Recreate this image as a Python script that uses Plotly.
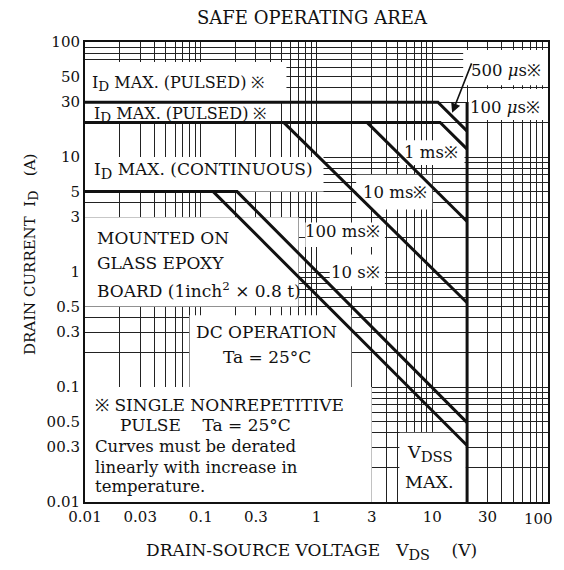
import math
import plotly.graph_objects as go

FONT = "DejaVu Serif"
INK = "#111111"
SP = "\u00a0"

# axis ticks (labels as printed on the sheet)
x_tickvals = [0.01, 0.03, 0.1, 0.3, 1, 3, 10, 30, 100]
x_ticktext = ["0.01", "0.03", "0.1", "0.3", "1", "3", "10", "30", "100"]
y_tickvals = [100, 50, 30, 10, 5, 3, 1, 0.5, 0.3, 0.1, 0.05, 0.03, 0.01]
y_ticktext = ["100", "50", "30", "10", "5", "3", "1", "0.5", "0.3", "0.1", "00.5", "00.3", "0.01"]

# SOA boundary corner points, V_DS (V) / I_D (A)
v_100us = [0.01, 11.2, 20]
i_100us = [30, 30, 16.8]
v_500us = [0.01, 11.7, 20]
i_500us = [20, 20, 11.7]
v_1ms = [2.73, 20]
i_1ms = [20, 2.75]
v_10ms = [0.52, 20]
i_10ms = [20, 0.54]
v_100ms = [0.01, 0.206, 20]
i_100ms = [5, 5, 0.049]
v_10s = [0.128, 20]
i_10s = [5, 0.031]
v_vdss = [20, 20]
i_vdss = [30, 0.01]

# white label panels knocked out of the grid: (V0, V1, I0, I1)
panels = [
    (0.01, 0.55, 30, 67),
    (0.01, 0.47, 20, 30),
    (0.01, 1.15, 5, 10),
    (0.01, 0.7, 0.5, 3),
    (0.08, 2, 0.1, 0.42),
    (0.01, 3, 0.01, 0.1),
    (5.2, 19.5, 0.01, 0.04),
    (5.2, 19, 8.5, 14),
    (2.2, 10, 3.5, 7),
    (0.8, 3.9, 1.65, 2.7),
    (1.3, 3.9, 0.75, 1.42),
    (18.5, 100, 42, 85),
    (20.5, 100, 21, 39),
]

grid = [round(m * 10 ** e, 6) for e in range(-2, 2) for m in range(1, 10)] + [100]

fig = go.Figure()

# panels first so they sit over the grid but under the curves
for v0, v1, a0, a1 in panels:
    fig.add_trace(go.Scatter(x=[v0, v1, v1, v0, v0], y=[a0, a0, a1, a1, a0],
                             mode="lines", fill="toself", fillcolor="white",
                             line=dict(width=0, color="white"), hoverinfo="skip"))

curves = [
    (v_100us, i_100us), (v_500us, i_500us), (v_1ms, i_1ms), (v_10ms, i_10ms),
    (v_100ms, i_100ms), (v_10s, i_10s), (v_vdss, i_vdss),
]
for vx, iy in curves:
    fig.add_trace(go.Scatter(x=vx, y=iy, mode="lines",
                             line=dict(color=INK, width=3), hoverinfo="skip"))


def sub(txt, size):
    # datasheet subscripts are almost full size
    return f"<sub><span style='font-size:{size * 0.85:.1f}px'>{txt}</span></sub>"


def label(text, x, y, size=16.5, anchor="left"):
    fig.add_annotation(text=text, x=x, y=y, xref="paper", yref="paper",
                       showarrow=False, xanchor=anchor, yanchor="middle",
                       font=dict(family=FONT, size=size, color=INK))


label("I" + sub("D", 16) + " MAX. (PULSED) ※", 0.011, 0.91, size=16)
label("I" + sub("D", 16) + " MAX. (PULSED) ※", 0.015, 0.843, size=16)
label("I" + sub("D", 17) + " MAX. (CONTINUOUS)", 0.015, 0.72, size=17)
label("MOUNTED ON", 0.022, 0.574, size=17)
label("GLASS EPOXY", 0.022, 0.520, size=17)
label("BOARD (1inch<sup>2</sup> × 0.8 t)", 0.022, 0.461, size=17)
label("DC OPERATION", 0.393, 0.370, size=17, anchor="center")
label("Ta = 25°C", 0.393, 0.315, size=17, anchor="center")
label("※ SINGLE NONREPETITIVE", 0.017, 0.211, size=17)
label("PULSE" + SP * 4 + "Ta = 25°C", 0.071, 0.167, size=17)
label("Curves must be derated", 0.017, 0.120)
label("linearly with increase in", 0.017, 0.076)
label("temperature.", 0.017, 0.033)
label("V" + sub("DSS", 17.5), 0.745, 0.105, size=17.5, anchor="center")
label("MAX.", 0.745, 0.043, size=17.5, anchor="center")
label("1 ms※", 0.747, 0.759, anchor="center")
label("10 ms※", 0.670, 0.672, anchor="center")
label("100 ms※", 0.557, 0.587, anchor="center")
label("10 s※", 0.585, 0.498, anchor="center")
label("500 <i>μ</i>s※", 0.909, 0.939, anchor="center")
label("100 <i>μ</i>s※", 0.907, 0.857, anchor="center")

# arrow from the 500 us label
fig.add_annotation(text="", x=0.793, y=0.846, xref="paper", yref="paper",
                   ax=20, ay=-51, showarrow=True, arrowhead=2, arrowsize=1.2,
                   arrowwidth=1.6, arrowcolor=INK)

# last x tick label sits at the window edge; pull it in so it is not clipped
last_x_label = x_ticktext[-1]
x_ticktext[-1] = ""
label(last_x_label, 1.015, -0.037, size=15, anchor="right")

label("SAFE OPERATING AREA", 0.492, 1.054, size=18, anchor="center")
label("DRAIN-SOURCE VOLTAGE" + SP * 3 + "V" + sub("DS", 17) + SP * 4 + "(V)",
      0.49, -0.108, size=17, anchor="center")
fig.add_annotation(text="DRAIN CURRENT" + SP * 2 + "I" + sub("D", 15) + SP * 3 + "(A)",
                   x=-0.1425, y=0.537, xref="paper", yref="paper",
                   showarrow=False, textangle=-90,
                   font=dict(family=FONT, size=15, color=INK))

axis_common = dict(
    type="log", range=[-2, 2], showline=True, linecolor=INK, linewidth=2,
    mirror=True, ticks="", showgrid=True, gridcolor="#222", gridwidth=1,
    zeroline=False, automargin=False,
    tickfont=dict(family=FONT, size=15, color=INK),
)
fig.update_xaxes(**axis_common, tickvals=x_tickvals, ticktext=x_ticktext,
                 minor=dict(tickvals=grid, showgrid=True, gridcolor="#222", gridwidth=1))
fig.update_yaxes(**axis_common, tickvals=y_tickvals, ticktext=y_ticktext,
                 minor=dict(tickvals=grid, showgrid=True, gridcolor="#222", gridwidth=1))

# page body adds an 8px offset, so the figure is sized to end at the window edge
fig.update_layout(
    width=556, height=554,
    margin=dict(l=77, r=16, t=34, b=60),
    paper_bgcolor="white", plot_bgcolor="white",
    showlegend=False,
    font=dict(family=FONT, color=INK),
)

fig.write_html("out.html")
